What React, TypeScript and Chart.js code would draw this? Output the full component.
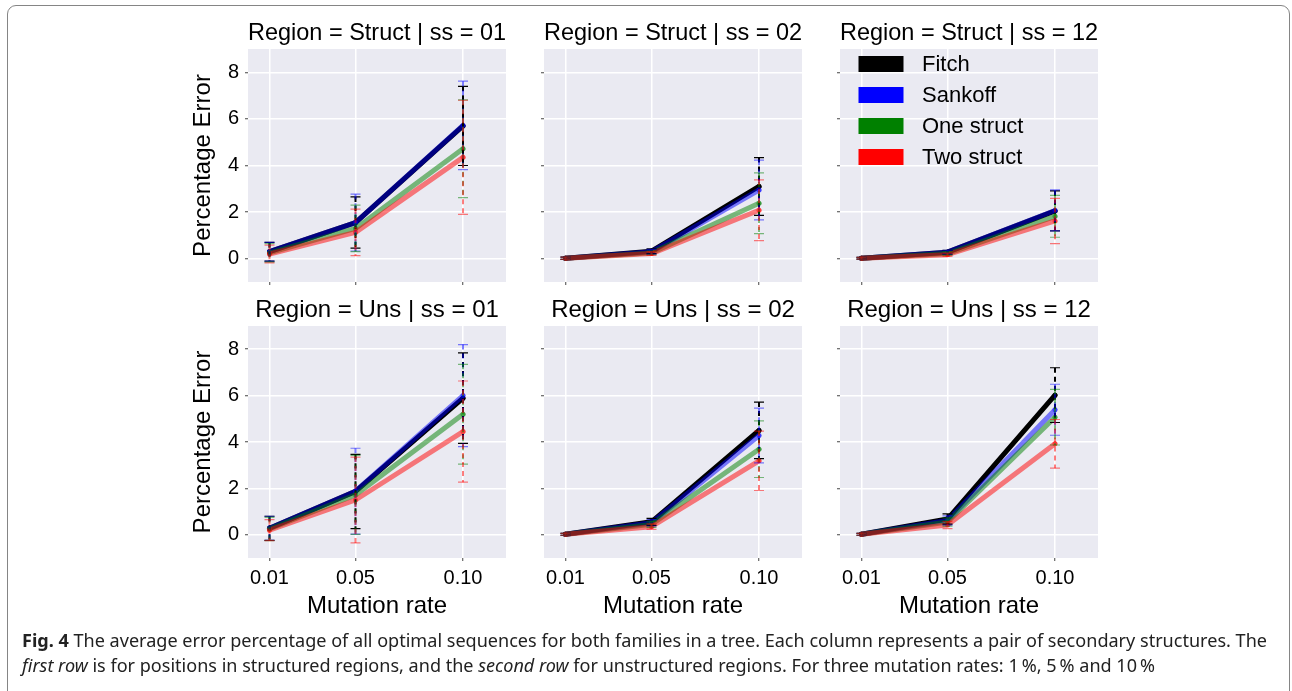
import React, { useEffect, useRef } from 'react';
import { Chart, registerables } from 'chart.js';

Chart.register(...registerables);
Chart.defaults.font.family = "'Liberation Sans', Arial, sans-serif";
Chart.defaults.color = '#000';

// ---------- data ----------
const X_VALUES = [0.01, 0.05, 0.1];
const X_TICK_LABELS = ['0.01', '0.05', '0.10'];
const Y_TICKS = [0, 2, 4, 6, 8];
const SERIES = ['Fitch', 'Sankoff', 'One struct', 'Two struct'];
const SERIES_COLORS = ['rgba(0,0,0,1)', 'rgba(0,0,255,0.5)', 'rgba(0,128,0,0.5)', 'rgba(255,0,0,0.5)'];
const LEGEND_COLORS = ['#000000', '#0000ff', '#008000', '#ff0000'];
const PANEL_TITLES = [
  'Region = Struct | ss = 01',
  'Region = Struct | ss = 02',
  'Region = Struct | ss = 12',
  'Region = Uns | ss = 01',
  'Region = Uns | ss = 02',
  'Region = Uns | ss = 12',
];
const Y_TITLE = 'Percentage Error';
const X_TITLE = 'Mutation rate';

// means per series (Fitch, Sankoff, One struct, Two struct) at 0.01, 0.05, 0.10
const STRUCT_01_MEAN = [[0.3, 1.55, 5.7], [0.3, 1.55, 5.72], [0.25, 1.3, 4.72], [0.2, 1.13, 4.35]];
const STRUCT_01_ERR = [[0.4, 1.1, 1.7], [0.4, 1.22, 1.9], [0.4, 1.0, 2.1], [0.38, 1.0, 2.45]];
const STRUCT_02_MEAN = [[0.02, 0.32, 3.1], [0.02, 0.3, 2.95], [0.02, 0.25, 2.38], [0.02, 0.22, 2.08]];
const STRUCT_02_ERR = [[0.05, 0.1, 1.24], [0.05, 0.1, 1.28], [0.05, 0.08, 1.3], [0.05, 0.08, 1.3]];
const STRUCT_12_MEAN = [[0.02, 0.28, 2.05], [0.02, 0.28, 2.07], [0.02, 0.22, 1.82], [0.02, 0.17, 1.62]];
const STRUCT_12_ERR = [[0.04, 0.08, 0.86], [0.04, 0.08, 0.88], [0.04, 0.07, 0.9], [0.04, 0.07, 0.97]];
const UNS_01_MEAN = [[0.28, 1.87, 5.89], [0.28, 1.88, 6.0], [0.25, 1.72, 5.2], [0.2, 1.5, 4.45]];
const UNS_01_ERR = [[0.52, 1.6, 1.95], [0.52, 1.85, 2.2], [0.5, 1.7, 2.15], [0.45, 1.85, 2.18]];
const UNS_02_MEAN = [[0.02, 0.56, 4.5], [0.02, 0.52, 4.28], [0.02, 0.45, 3.69], [0.02, 0.35, 3.19]];
const UNS_02_ERR = [[0.04, 0.15, 1.22], [0.04, 0.14, 1.18], [0.04, 0.13, 1.22], [0.04, 0.12, 1.28]];
const UNS_12_MEAN = [[0.02, 0.68, 6.02], [0.02, 0.62, 5.39], [0.02, 0.55, 5.07], [0.02, 0.42, 3.92]];
const UNS_12_ERR = [[0.04, 0.22, 1.18], [0.04, 0.2, 1.1], [0.04, 0.18, 1.2], [0.04, 0.15, 1.05]];

const PANEL_MEANS = [STRUCT_01_MEAN, STRUCT_02_MEAN, STRUCT_12_MEAN, UNS_01_MEAN, UNS_02_MEAN, UNS_12_MEAN];
const PANEL_ERRS = [STRUCT_01_ERR, STRUCT_02_ERR, STRUCT_12_ERR, UNS_01_ERR, UNS_02_ERR, UNS_12_ERR];

const CAPTION_BOLD = 'Fig. 4';
const CAPTION_LINE1 = ' The average error percentage of all optimal sequences for both families in a tree. Each column represents a pair of secondary structures. The';
const CAPTION_IT1 = 'first row';
const CAPTION_MID = ' is for positions in structured regions, and the ';
const CAPTION_IT2 = 'second row';
const CAPTION_END = ' for unstructured regions. For three mutation rates: 1\u2009%, 5\u2009% and 10\u2009%';

// ---------- layout ----------
const PLOT_LEFT = [248, 544, 840];
const PLOT_TOP = [49, 326];
const PLOT_W = 262;
const PLOT_H = [233, 232];
const TITLE_BLOCK = 39;

const bgPlugin = {
  id: 'panelBg',
  beforeDraw(chart: any) {
    const { ctx, chartArea } = chart;
    ctx.save();
    ctx.fillStyle = '#EAEAF2';
    ctx.fillRect(chartArea.left, chartArea.top, chartArea.right - chartArea.left, chartArea.bottom - chartArea.top);
    ctx.restore();
  },
};

const errPlugin = {
  id: 'errBars',
  afterDatasetsDraw(chart: any) {
    const { ctx } = chart;
    const xs = chart.scales.x;
    const ys = chart.scales.y;
    ctx.save();
    chart.data.datasets.forEach((ds: any, s: number) => {
      const errs = ds.errors as number[];
      ds.data.forEach((p: any, i: number) => {
        const x = xs.getPixelForValue(p.x);
        const yHi = ys.getPixelForValue(p.y + errs[i]);
        const yLo = ys.getPixelForValue(p.y - errs[i]);
        ctx.strokeStyle = SERIES_COLORS[s];
        ctx.lineWidth = 2;
        ctx.setLineDash([5, 4]);
        ctx.beginPath();
        ctx.moveTo(x, yHi);
        ctx.lineTo(x, yLo);
        ctx.stroke();
        ctx.setLineDash([]);
        ctx.lineWidth = 1.2;
        ctx.beginPath();
        ctx.moveTo(x - 5, yHi);
        ctx.lineTo(x + 5, yHi);
        ctx.moveTo(x - 5, yLo);
        ctx.lineTo(x + 5, yLo);
        ctx.stroke();
      });
    });
    ctx.restore();
  },
};

const legendPlugin = {
  id: 'panelLegend',
  afterDraw(chart: any, _args: any, opts: any) {
    if (!opts || !opts.show) return;
    const { ctx, chartArea } = chart;
    ctx.save();
    ctx.font = "22px 'Liberation Sans', Arial, sans-serif";
    ctx.textBaseline = 'middle';
    ctx.textAlign = 'left';
    SERIES.forEach((name, i) => {
      const cy = chartArea.top + 15 + i * 31;
      ctx.fillStyle = LEGEND_COLORS[i];
      ctx.fillRect(chartArea.left + 18.5, cy - 8, 45, 16);
      ctx.fillStyle = '#000';
      ctx.fillText(name, chartArea.left + 82, cy + 1);
    });
    ctx.restore();
  },
};

function Panel({ index }: { index: number }) {
  const ref = useRef<HTMLCanvasElement>(null);
  const row = Math.floor(index / 3);
  const col = index % 3;
  const L = col === 0 ? 68 : 10;
  const B = row === 0 ? 8 : 70;
  const W = L + PLOT_W;
  const H = TITLE_BLOCK + PLOT_H[row] + B;
  const left = PLOT_LEFT[col] - L;
  const top = PLOT_TOP[row] - TITLE_BLOCK;

  useEffect(() => {
    const means = PANEL_MEANS[index];
    const errs = PANEL_ERRS[index];
    const chart = new Chart(ref.current as HTMLCanvasElement, {
      type: 'line',
      data: {
        datasets: SERIES.map((name, s) => ({
          label: name,
          data: X_VALUES.map((x, i) => ({ x, y: means[s][i] })),
          borderColor: SERIES_COLORS[s],
          backgroundColor: SERIES_COLORS[s],
          pointBackgroundColor: SERIES_COLORS[s],
          borderWidth: 5,
          pointRadius: 2.5,
          pointBorderWidth: 0,
          borderCapStyle: 'round',
          borderJoinStyle: 'round',
          order: SERIES.length - s,
          errors: errs[s],
        })) as any,
      },
      options: {
        animation: false,
        responsive: false,
        maintainAspectRatio: false,
        devicePixelRatio: 1,
        layout: { padding: 0 },
        events: [],
        plugins: {
          legend: { display: false },
          tooltip: { enabled: false },
          title: {
            display: true,
            text: PANEL_TITLES[index],
            fullSize: false,
            color: '#000',
            font: { size: 24, weight: 'normal' },
            padding: { top: 9, bottom: 1.2 },
          },
          panelLegend: { show: index === 2 },
        } as any,
        scales: {
          x: {
            type: 'linear',
            min: 0,
            max: 0.12,
            afterBuildTicks: (s: any) => {
              s.ticks = X_VALUES.map((v) => ({ value: v }));
            },
            afterFit: (s: any) => {
              s.height = B;
              s.paddingLeft = 0;
              s.paddingRight = 0;
            },
            ticks: {
              display: row === 1,
              autoSkip: false,
              maxRotation: 0,
              padding: 5,
              color: '#000',
              font: { size: 20 },
              callback: (_v: any, i: number) => X_TICK_LABELS[i],
            },
            grid: { color: '#ffffff', lineWidth: 1.5, tickColor: '#444', tickLength: 3, tickWidth: 1 },
            border: { display: false },
            title: {
              display: row === 1,
              text: X_TITLE,
              color: '#000',
              font: { size: 24 },
              padding: { top: 0, bottom: 7.6 },
            },
          },
          y: {
            type: 'linear',
            min: -1,
            max: 9,
            afterBuildTicks: (s: any) => {
              s.ticks = Y_TICKS.map((v) => ({ value: v }));
            },
            afterFit: (s: any) => {
              s.width = L;
              s.paddingTop = 0;
              s.paddingBottom = 0;
            },
            ticks: {
              display: col === 0,
              padding: 6,
              color: '#000',
              font: { size: 20 },
              callback: (v: any) => String(v),
            },
            grid: { color: '#ffffff', lineWidth: 1.5, tickColor: '#444', tickLength: 3, tickWidth: 1 },
            border: { display: false },
            title: {
              display: col === 0,
              text: Y_TITLE,
              color: '#000',
              font: { size: 24 },
              padding: { top: 9, bottom: 0 },
            },
          },
        } as any,
      },
      plugins: [bgPlugin, errPlugin, legendPlugin],
    });
    return () => chart.destroy();
  }, []);

  return (
    <canvas
      ref={ref}
      width={W}
      height={H}
      style={{ position: 'absolute', left, top, width: W, height: H }}
    />
  );
}

export default function App() {
  return (
    <div
      style={{
        position: 'fixed',
        left: 0,
        top: 0,
        width: 1292,
        height: 691,
        overflow: 'hidden',
        background: '#fff',
      }}
    >
      <div
        style={{
          position: 'absolute',
          left: 7,
          top: 5,
          width: 1283,
          height: 720,
          border: '1.5px solid #858585',
          borderRadius: 9,
          boxSizing: 'border-box',
        }}
      />
      {[0, 1, 2, 3, 4, 5].map((i) => (
        <Panel key={i} index={i} />
      ))}
      <svg
        width={1292}
        height={71}
        style={{ position: 'absolute', left: 0, top: 620 }}
        fontFamily="'Noto Sans', 'Open Sans', sans-serif"
        fontSize={17.5}
        fill="#222"
      >
        <text x={22} y={27} textLength={1245} lengthAdjust="spacingAndGlyphs" xmlSpace="preserve">
          <tspan fontWeight="bold">{CAPTION_BOLD}</tspan>
          {CAPTION_LINE1}
        </text>
        <text x={22} y={52} textLength={1133} lengthAdjust="spacingAndGlyphs" xmlSpace="preserve">
          <tspan fontStyle="italic">{CAPTION_IT1}</tspan>
          {CAPTION_MID}
          <tspan fontStyle="italic">{CAPTION_IT2}</tspan>
          {CAPTION_END}
        </text>
      </svg>
    </div>
  );
}
